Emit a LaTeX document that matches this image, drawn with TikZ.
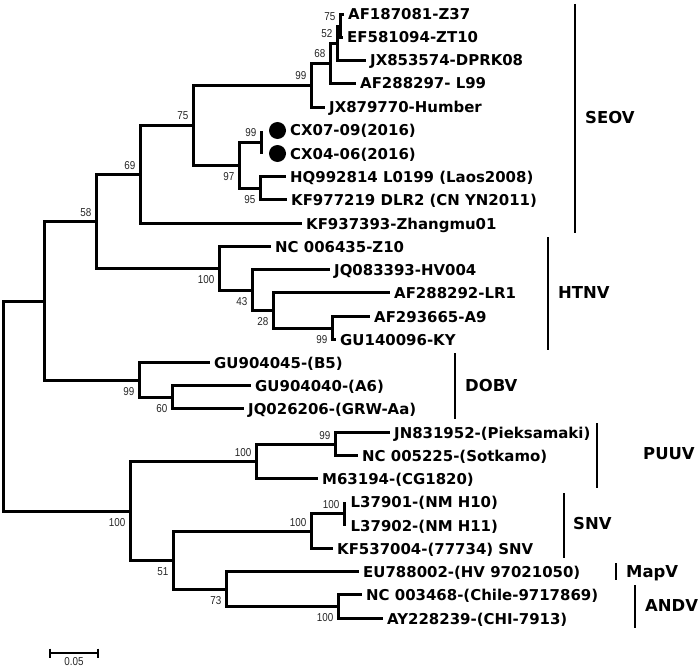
\documentclass[tikz,border=0pt]{standalone}
\usepackage{fontspec}
\setmainfont{DejaVu Sans}
\newfontfamily\bsfont[FakeStretch=0.86]{Liberation Sans}
\begin{document}
\begin{tikzpicture}[x=1bp,y=-1bp,
  br/.style={line width=3bp, line join=miter},
  leaf/.style={anchor=base west, inner sep=0pt, font=\bfseries\fontsize{15}{15}\selectfont},
  bsfnt/.style={inner sep=0pt, text=black!85, font=\bsfont\fontsize{11.5}{11.5}\selectfont},
  bsa/.style={bsfnt, anchor=base east, xshift=-5bp, yshift=5.5bp},
  bsb/.style={bsfnt, anchor=base east, xshift=-5bp, yshift=-15.3bp},
  cladebar/.style={line width=2bp},
  cladelab/.style={anchor=base west, inner sep=0pt, font=\bfseries\fontsize{16.5}{16.5}\selectfont},
  sample/.style={circle, fill=black, inner sep=0pt, minimum size=17bp}]
\useasboundingbox (0,0) rectangle (700,667);

% ---------- leaf tips ----------
\coordinate (t0) at (344,14.5);
\coordinate (t1) at (343,37.5);
\coordinate (t2) at (366,60.5);
\coordinate (t3) at (356,83.5);
\coordinate (t4) at (325,107.5);
\coordinate (t5) at (261.5,130.5);
\coordinate (t6) at (261.5,153.5);
\coordinate (t7) at (286,176.5);
\coordinate (t8) at (287,199.5);
\coordinate (t9) at (302,223.5);
\coordinate (t10) at (271,246.5);
\coordinate (t11) at (330,269.5);
\coordinate (t12) at (390,292.5);
\coordinate (t13) at (370,316.5);
\coordinate (t14) at (336,339.5);
\coordinate (t15) at (210,362.5);
\coordinate (t16) at (251,385.5);
\coordinate (t17) at (244,408.5);
\coordinate (t18) at (390,432.5);
\coordinate (t19) at (358,455.5);
\coordinate (t20) at (318,478.5);
\coordinate (t21) at (344.5,501.5);
\coordinate (t22) at (344.5,525.5);
\coordinate (t23) at (333,548.5);
\coordinate (t24) at (359,571.5);
\coordinate (t25) at (362,594.5);
\coordinate (t26) at (383,618.5);

% ---------- internal nodes ----------
\coordinate (n75a) at (340.5,26.5);
\coordinate (n52) at (337.5,43.5);
\coordinate (n68) at (330.5,63.5);
\coordinate (n99a) at (311.5,85.5);
\coordinate (nCX) at (261.5,142.5);
\coordinate (n95) at (260.5,188.5);
\coordinate (n97) at (239.5,165.5);
\coordinate (n75b) at (193.5,125.5);
\coordinate (n69) at (140.5,174.5);
\coordinate (nHT) at (219.5,268.5);
\coordinate (n43) at (252.5,290.5);
\coordinate (n28) at (273.5,310.5);
\coordinate (n99b) at (332.5,328.5);
\coordinate (n58) at (96.5,221.5);
\coordinate (n60) at (172.5,397.5);
\coordinate (nDO) at (139.5,380.5);
\coordinate (n44) at (44.5,301.5);
\coordinate (n99c) at (335.5,444.5);
\coordinate (nPU) at (256.5,461.5);
\coordinate (nSNc) at (344.5,513.5);
\coordinate (nSN) at (311.5,531.5);
\coordinate (nAN) at (338.5,606.5);
\coordinate (n73) at (226.5,589.5);
\coordinate (n51) at (173.5,560.5);
\coordinate (n100r) at (130.5,511.5);
\coordinate (root) at (3.5,406.5);

% ---------- branches ----------
\draw[br] (n75a) |- (t0);  \draw[br] (n75a) |- (t1);
\draw[br] (n52) |- (n75a); \draw[br] (n52) |- (t2);
\draw[br] (n68) |- (n52);  \draw[br] (n68) |- (t3);
\draw[br] (n99a) |- (n68); \draw[br] (n99a) |- (t4);
\draw[br] (nCX) -- (t5);   \draw[br] (nCX) -- (t6);
\draw[br] (n95) |- (t7);   \draw[br] (n95) |- (t8);
\draw[br] (n97) |- (nCX);  \draw[br] (n97) |- (n95);
\draw[br] (n75b) |- (n99a); \draw[br] (n75b) |- (n97);
\draw[br] (n69) |- (n75b); \draw[br] (n69) |- (t9);
\draw[br] (n99b) |- (t13); \draw[br] (n99b) |- (t14);
\draw[br] (n28) |- (t12);  \draw[br] (n28) |- (n99b);
\draw[br] (n43) |- (t11);  \draw[br] (n43) |- (n28);
\draw[br] (nHT) |- (t10);  \draw[br] (nHT) |- (n43);
\draw[br] (n58) |- (n69);  \draw[br] (n58) |- (nHT);
\draw[br] (n60) |- (t16);  \draw[br] (n60) |- (t17);
\draw[br] (nDO) |- (t15);  \draw[br] (nDO) |- (n60);
\draw[br] (n44) |- (n58);  \draw[br] (n44) |- (nDO);
\draw[br] (n99c) |- (t18); \draw[br] (n99c) |- (t19);
\draw[br] (nPU) |- (n99c); \draw[br] (nPU) |- (t20);
\draw[br] (nSNc) -- (t21); \draw[br] (nSNc) -- (t22);
\draw[br] (nSN) |- (nSNc); \draw[br] (nSN) |- (t23);
\draw[br] (nAN) |- (t25);  \draw[br] (nAN) |- (t26);
\draw[br] (n73) |- (t24);  \draw[br] (n73) |- (nAN);
\draw[br] (n51) |- (nSN);  \draw[br] (n51) |- (n73);
\draw[br] (n100r) |- (nPU); \draw[br] (n100r) |- (n51);
\draw[br] (root) |- (n44); \draw[br] (root) |- (n100r);

% ---------- sample markers ----------
\node[sample] (dot5) at (277.5,130.5) {};
\node[sample] (dot6) at (277.5,153.5) {};

% ---------- leaf labels ----------
\node[leaf] (l0) at ([xshift=4bp,yshift=-5.5bp]t0) {AF187081-Z37};
\node[leaf] (l1) at ([xshift=4bp,yshift=-5.5bp]t1) {EF581094-ZT10};
\node[leaf] (l2) at ([xshift=4bp,yshift=-5.5bp]t2) {JX853574-DPRK08};
\node[leaf] (l3) at ([xshift=4bp,yshift=-5.5bp]t3) {AF288297- L99};
\node[leaf] (l4) at ([xshift=4bp,yshift=-5.5bp]t4) {JX879770-Humber};
\node[leaf] (l5) at ([xshift=28.5bp,yshift=-5.5bp]t5) {CX07-09(2016)};
\node[leaf] (l6) at ([xshift=28.5bp,yshift=-5.5bp]t6) {CX04-06(2016)};
\node[leaf] (l7) at ([xshift=4bp,yshift=-5.5bp]t7) {HQ992814 L0199 (Laos2008)};
\node[leaf] (l8) at ([xshift=4bp,yshift=-5.5bp]t8) {KF977219 DLR2 (CN YN2011)};
\node[leaf] (l9) at ([xshift=4bp,yshift=-5.5bp]t9) {KF937393-Zhangmu01};
\node[leaf] (l10) at ([xshift=4bp,yshift=-5.5bp]t10) {NC 006435-Z10};
\node[leaf] (l11) at ([xshift=4bp,yshift=-5.5bp]t11) {JQ083393-HV004};
\node[leaf] (l12) at ([xshift=4bp,yshift=-5.5bp]t12) {AF288292-LR1};
\node[leaf] (l13) at ([xshift=4bp,yshift=-5.5bp]t13) {AF293665-A9};
\node[leaf] (l14) at ([xshift=4bp,yshift=-5.5bp]t14) {GU140096-KY};
\node[leaf] (l15) at ([xshift=4bp,yshift=-5.5bp]t15) {GU904045-(B5)};
\node[leaf] (l16) at ([xshift=4bp,yshift=-5.5bp]t16) {GU904040-(A6)};
\node[leaf] (l17) at ([xshift=4bp,yshift=-5.5bp]t17) {JQ026206-(GRW-Aa)};
\node[leaf] (l18) at ([xshift=4bp,yshift=-5.5bp]t18) {JN831952-(Pieksamaki)};
\node[leaf] (l19) at ([xshift=4bp,yshift=-5.5bp]t19) {NC 005225-(Sotkamo)};
\node[leaf] (l20) at ([xshift=4bp,yshift=-5.5bp]t20) {M63194-(CG1820)};
\node[leaf] (l21) at ([xshift=6bp,yshift=-5.5bp]t21) {L37901-(NM H10)};
\node[leaf] (l22) at ([xshift=6bp,yshift=-5.5bp]t22) {L37902-(NM H11)};
\node[leaf] (l23) at ([xshift=4bp,yshift=-5.5bp]t23) {KF537004-(77734) SNV};
\node[leaf] (l24) at ([xshift=4bp,yshift=-5.5bp]t24) {EU788002-(HV 97021050)};
\node[leaf] (l25) at ([xshift=4bp,yshift=-5.5bp]t25) {NC 003468-(Chile-9717869)};
\node[leaf] (l26) at ([xshift=4bp,yshift=-5.5bp]t26) {AY228239-(CHI-7913)};

% ---------- bootstrap values ----------
\node[bsa] (b1) at (n75a) {75};
\node[bsa] (b2) at (n52) {52};
\node[bsa] (b3) at (n68) {68};
\node[bsa] (b4) at (n99a) {99};
\node[bsa] (b5) at (n75b) {75};
\node[bsa] (b6) at (nCX) {99};
\node[bsb] (b7) at (n97) {97};
\node[bsb] (b8) at (n95) {95};
\node[bsa] (b9) at (n69) {69};
\node[bsa] (b10) at (n58) {58};
\node[bsb] (b11) at (nHT) {100};
\node[bsb] (b12) at (n43) {43};
\node[bsb] (b13) at (n28) {28};
\node[bsb] (b14) at (n99b) {99};
\node[bsb] (b15) at (nDO) {99};
\node[bsb] (b16) at (n60) {60};
\node[bsa] (b17) at (nPU) {100};
\node[bsa] (b18) at (n99c) {99};
\node[bsb] (b19) at (n100r) {100};
\node[bsb] (b20) at (n51) {51};
\node[bsa] (b21) at (nSN) {100};
\node[bsa] (b22) at (nSNc) {100};
\node[bsb] (b23) at (n73) {73};
\node[bsb] (b24) at (nAN) {100};

% ---------- clade bars ----------
\coordinate (seovT) at (575,4);   \coordinate (seovB) at (575,233);
\coordinate (htnvT) at (548,237); \coordinate (htnvB) at (548,350);
\coordinate (dobvT) at (455,353); \coordinate (dobvB) at (455,419);
\coordinate (puuvT) at (597,423); \coordinate (puuvB) at (597,488);
\coordinate (snvT) at (564,493);  \coordinate (snvB) at (564,558);
\coordinate (mapvT) at (616,563); \coordinate (mapvB) at (616,580);
\coordinate (andvT) at (635,585); \coordinate (andvB) at (635,628);
\draw[cladebar] (seovT) -- (seovB);
\draw[cladebar] (htnvT) -- (htnvB);
\draw[cladebar, line width=1.6bp] (dobvT) -- (dobvB);
\draw[cladebar] (puuvT) -- (puuvB);
\draw[cladebar] (snvT) -- (snvB);
\draw[cladebar] (mapvT) -- (mapvB);
\draw[cladebar] (andvT) -- (andvB);
\node[cladelab] (cSEOV) at (585,124) {SEOV};
\node[cladelab] (cHTNV) at (558,298) {HTNV};
\node[cladelab] (cDOBV) at (465,391) {DOBV};
\node[cladelab] (cPUUV) at (643,459) {PUUV};
\node[cladelab] (cSNV) at (573,529) {SNV};
\node[cladelab] (cMapV) at (626,577) {MapV};
\node[cladelab] (cANDV) at (645,611) {ANDV};

% ---------- scale bar ----------
\coordinate (sbL) at (50,653);
\coordinate (sbR) at (98,653);
\draw[line width=1.3bp] (sbL) -- (sbR);
\draw[line width=1.3bp] ([yshift=4.5bp]sbL) -- ([yshift=-4.5bp]sbL);
\draw[line width=1.3bp] ([yshift=4.5bp]sbR) -- ([yshift=-4.5bp]sbR);
\node[bsfnt, anchor=base] (sbl) at (74,665.5) {0.05};
\end{tikzpicture}
\end{document}
